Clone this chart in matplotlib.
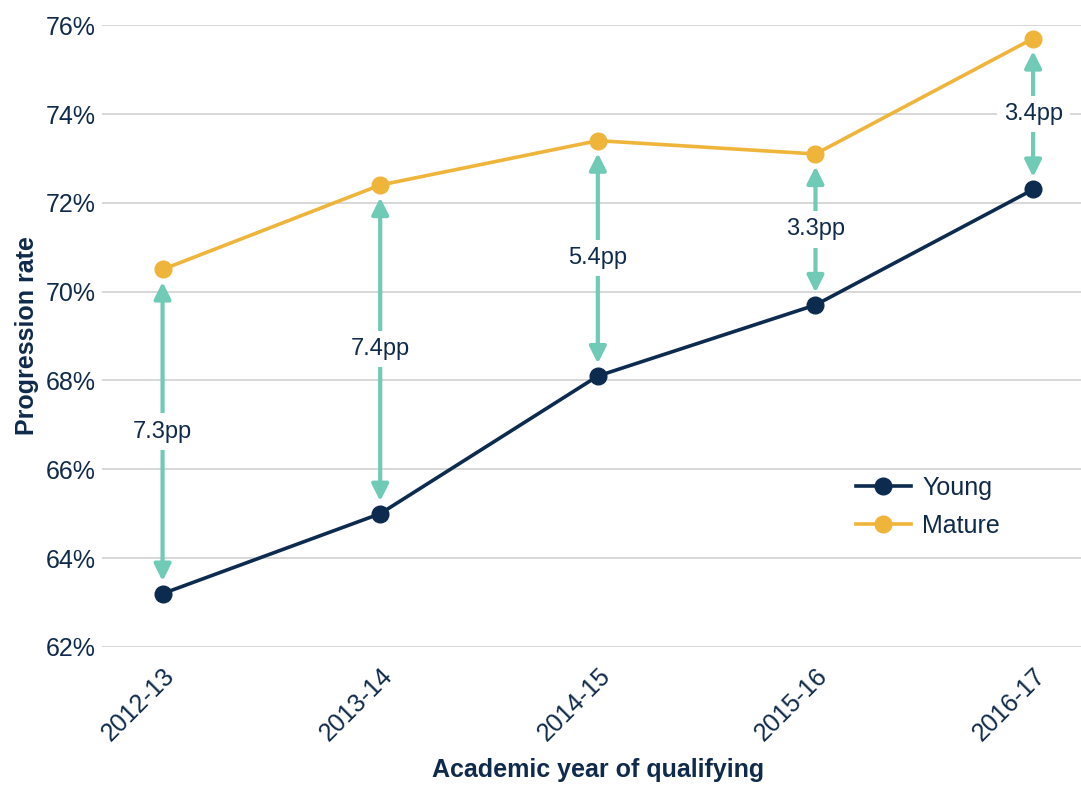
import matplotlib.pyplot as plt

years = ["2012-13", "2013-14", "2014-15", "2015-16", "2016-17"]
young = [63.2, 65.0, 68.1, 69.7, 72.3]
mature = [70.5, 72.4, 73.4, 73.1, 75.7]
gap_labels = ["7.3pp", "7.4pp", "5.4pp", "3.3pp", "3.4pp"]
y_ticks = [62, 64, 66, 68, 70, 72, 74, 76]

navy = "#0d2a4f"
gold = "#efb43a"
teal = "#6fcab6"
text_col = "#0f2a4a"

plt.rcParams['font.family'] = ['Liberation Sans', 'DejaVu Sans']

fig = plt.figure(figsize=(10.81, 7.87), dpi=100)
ax = fig.add_axes([0.094, 0.178, 0.906, 0.79])

x = list(range(len(years)))

# gap arrows between the two series
for i in x:
    ax.annotate("", xy=(i, young[i]), xytext=(i, mature[i]),
                arrowprops=dict(arrowstyle="<|-|>,head_length=1.0,head_width=0.5",
                                color=teal, lw=3, shrinkA=9, shrinkB=9),
                zorder=2)
    mid = (young[i] + mature[i]) / 2
    ax.text(i, mid, gap_labels[i], ha="center", va="center", fontsize=17,
            color=text_col, zorder=3,
            bbox=dict(boxstyle="square,pad=0.3", fc="white", ec="none"))

ax.plot(x, young, color=navy, lw=2.6, marker="o", ms=12, label="Young",
        zorder=4, clip_on=False)
ax.plot(x, mature, color=gold, lw=2.6, marker="o", ms=12, label="Mature",
        zorder=4, clip_on=False)

ax.set_xlim(-0.28, 4.22)
ax.set_ylim(62, 76)
ax.set_yticks(y_ticks)
ax.set_yticklabels([f"{v}%" for v in y_ticks])
ax.set_xticks(x)
ax.set_xticklabels(years, rotation=45, ha="right", rotation_mode="anchor")

ax.grid(axis="y", color="#d4d4d4", lw=1.3)
ax.set_axisbelow(True)
for s in ax.spines.values():
    s.set_visible(False)
ax.tick_params(axis="both", length=0, labelsize=18, colors=text_col)
ax.tick_params(axis="y", pad=4)
ax.tick_params(axis="x", pad=12)

ax.set_xlabel("Academic year of qualifying", fontsize=18, fontweight="bold",
              color=text_col)
ax.xaxis.set_label_coords(0.507, -0.178)
ax.set_ylabel("Progression rate", fontsize=18, fontweight="bold",
              color=text_col)
ax.yaxis.set_label_coords(-0.064, 0.5)

leg = ax.legend(loc="center left", bbox_to_anchor=(0.76, 0.225), frameon=False,
                fontsize=18, handlelength=2.2, handletextpad=0.45,
                labelspacing=0.55, borderaxespad=0)
for t in leg.get_texts():
    t.set_color(text_col)

fig.savefig("out.png", dpi=100)
